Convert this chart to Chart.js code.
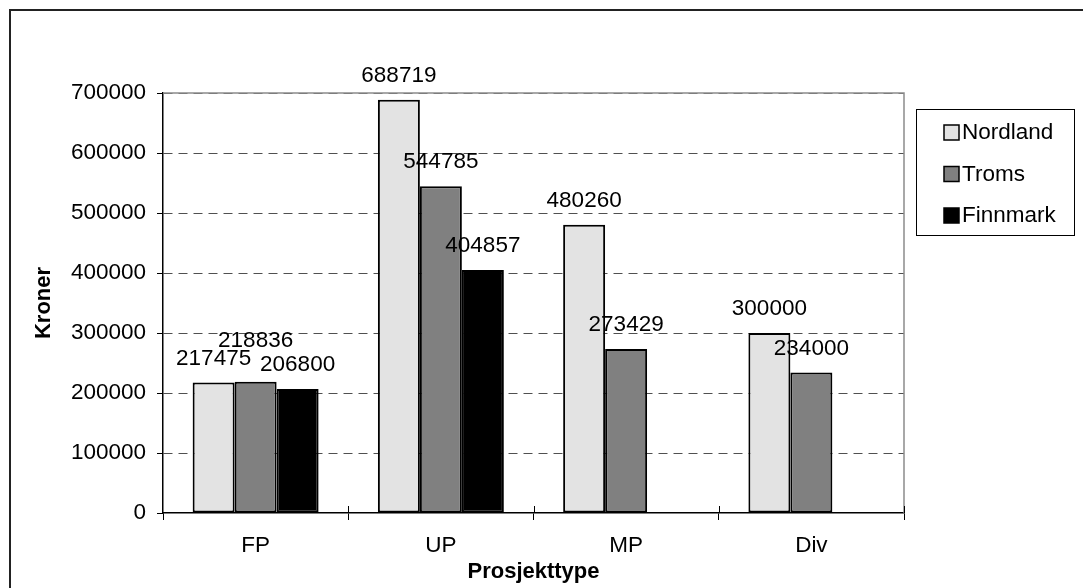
<!DOCTYPE html>
<html>
<head>
<meta charset="utf-8">
<script src="https://cdn.jsdelivr.net/npm/chart.js@4/dist/chart.umd.min.js"></script>
<style>
  body { margin: 0; background: #fff; }
  canvas { display: block; }
</style>
</head>
<body>
<canvas id="chart" width="1083" height="588"></canvas>
<script>
const categories = ["FP", "UP", "MP", "Div"];
const nordland = [217475, 688719, 480260, 300000];
const troms = [218836, 544785, 273429, 234000];
const finnmark = [206800, 404857, null, null];
const seriesNames = ["Nordland", "Troms", "Finnmark"];
const seriesColors = ["#e3e3e3", "#808080", "#000000"];

const FONT = "'Liberation Sans', Arial, sans-serif";
const FSIZE = 22.5;

// outer frame, plot frame, inner x ticks, value labels and legend
const decorPlugin = {
  id: "decor",
  beforeDraw: function (chart) {
    var ctx = chart.ctx;
    ctx.save();
    ctx.fillStyle = "#fff";
    ctx.fillRect(0, 0, chart.width, chart.height);
    ctx.restore();
  },
  afterDraw: function (chart) {
    var ctx = chart.ctx;
    var area = chart.chartArea;
    ctx.save();

    // outer border
    ctx.strokeStyle = "#222";
    ctx.lineWidth = 2;
    ctx.strokeRect(10, 10, chart.width + 20, chart.height + 20);

    // plot frame top / right in gray
    ctx.strokeStyle = "#8c8c8c";
    ctx.lineWidth = 1.5;
    ctx.beginPath();
    ctx.moveTo(area.left, area.top);
    ctx.lineTo(area.right, area.top);
    ctx.lineTo(area.right, area.bottom);
    ctx.stroke();

    // little x ticks above the axis
    var n = categories.length;
    var step = (area.right - area.left) / n;
    ctx.strokeStyle = "#000";
    ctx.lineWidth = 1;
    ctx.beginPath();
    for (let i = 1; i <= n; i++) {
      var x = Math.round(area.left + i * step) + 0.5;
      ctx.moveTo(x, area.bottom - 7);
      ctx.lineTo(x, area.bottom);
    }
    ctx.stroke();

    // value labels above bars, pushed up when they collide
    ctx.font = FSIZE + "px " + FONT;
    ctx.fillStyle = "#000";
    ctx.textAlign = "center";
    ctx.textBaseline = "middle";
    var h = 18;
    for (let c = 0; c < n; c++) {
      var placed = [];
      chart.data.datasets.forEach(function (ds, d) {
        var v = ds.data[c];
        if (v === null || v === undefined) return;
        var bar = chart.getDatasetMeta(d).data[c];
        var text = String(v);
        var w = ctx.measureText(text).width;
        var y = bar.y - 24;
        var moved = true;
        while (moved) {
          moved = false;
          for (const p of placed) {
            if (Math.abs(p.x - bar.x) < (w + p.w) / 2 && Math.abs(p.y - y) < h) {
              y = p.y - h;
              moved = true;
            }
          }
        }
        placed.push({ x: bar.x, y: y, w: w });
        ctx.fillText(text, bar.x, y);
      });
    }

    // legend
    ctx.strokeStyle = "#000";
    ctx.lineWidth = 1;
    ctx.strokeRect(916.5, 109.5, 158, 126);
    ctx.textAlign = "left";
    chart.data.datasets.forEach(function (ds, d) {
      var cy = 132 + d * 41.5;
      ctx.fillStyle = ds.backgroundColor;
      ctx.fillRect(944, cy - 7, 15, 15);
      ctx.lineWidth = 1.5;
      ctx.strokeRect(944, cy - 7, 15, 15);
      ctx.fillStyle = "#000";
      ctx.fillText(ds.label, 962, cy + 1);
    });

    ctx.restore();
  },
};

const datasets = [nordland, troms, finnmark].map(function (vals, i) {
  return {
    label: seriesNames[i],
    data: vals,
    backgroundColor: seriesColors[i],
    borderColor: "#000",
    borderWidth: 2,
    borderSkipped: false,
    categoryPercentage: 0.68,
    barPercentage: 1.0,
  };
});

new Chart(document.getElementById("chart").getContext("2d"), {
  type: "bar",
  data: { labels: categories, datasets: datasets },
  plugins: [decorPlugin],
  options: {
    responsive: false,
    animation: false,
    layout: { padding: { left: 20, right: 179, top: 93, bottom: 0 } },
    plugins: {
      legend: { display: false },
      tooltip: { enabled: false },
    },
    scales: {
      x: {
        afterFit: function (scale) {
          scale.height = 75;
        },
        grid: {
          offset: true,
          drawOnChartArea: false,
          tickLength: 7,
          tickColor: "#000",
          color: "#000",
        },
        border: { color: "#000", width: 1.5 },
        ticks: {
          color: "#000",
          padding: 12,
          font: { family: FONT, size: FSIZE },
        },
        title: {
          display: true,
          text: "Prosjekttype",
          color: "#000",
          padding: { top: 0, bottom: 3 },
          font: { family: FONT, size: 22, weight: "bold" },
        },
      },
      y: {
        min: 0,
        max: 700000,
        afterFit: function (scale) {
          scale.width = 143;
        },
        grid: {
          color: function (c) {
            return c.tick && c.tick.value === 0 ? "rgba(0,0,0,0)" : "#505050";
          },
          lineWidth: 1,
          tickLength: 6,
          tickColor: "#000",
        },
        border: { color: "#000", width: 1.5, dash: [9, 6] },
        ticks: {
          stepSize: 100000,
          color: "#000",
          padding: 11,
          font: { family: FONT, size: FSIZE },
          callback: function (v) {
            return String(v);
          },
        },
        title: {
          display: true,
          text: "Kroner",
          color: "#000",
          padding: { top: 11, bottom: 0 },
          font: { family: FONT, size: 22, weight: "bold" },
        },
      },
    },
  },
});
</script>
</body>
</html>
